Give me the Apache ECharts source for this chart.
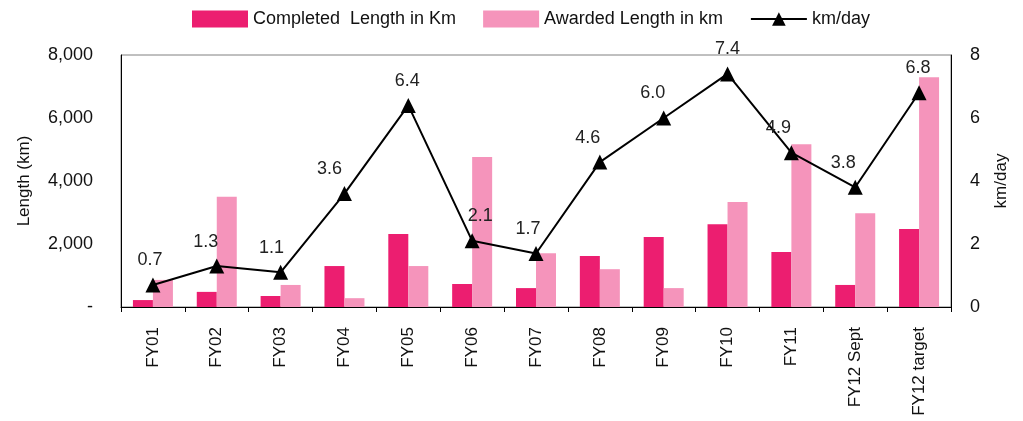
<!DOCTYPE html>
<html>
<head>
<meta charset="utf-8">
<script src="https://cdn.jsdelivr.net/npm/echarts@6/dist/echarts.min.js"></script>
<style>
html, body { margin: 0; padding: 0; background: #fff; }
#chart { width: 1023px; height: 421px; }
</style>
</head>
<body>
<div id="chart"></div>
<script>
var categories = ['FY01', 'FY02', 'FY03', 'FY04', 'FY05', 'FY06', 'FY07', 'FY08', 'FY09', 'FY10', 'FY11', 'FY12 Sept', 'FY12 target'];
var completed = [220, 480, 350, 1300, 2320, 730, 600, 1620, 2220, 2630, 1750, 700, 2480];
var awarded = [860, 3500, 700, 280, 1300, 4760, 1710, 1200, 600, 3330, 5170, 2980, 7290];
var kmPerDay = [0.7, 1.3, 1.1, 3.6, 6.4, 2.1, 1.7, 4.6, 6.0, 7.4, 4.9, 3.8, 6.8];

// small nudges so the value labels sit like in the original
var labelShift = [-3, -11, -9, -15, -1, 8, -8, -12, -11, 0, -13, -12, -1];

var font = "'Liberation Sans', Arial, sans-serif";

var chart = echarts.init(document.getElementById('chart'));
chart.setOption({
  animation: false,
  legend: {
    top: 5,
    left: 187,
    itemWidth: 56,
    itemHeight: 17,
    itemGap: 27,
    textStyle: { fontFamily: font, fontSize: 18, color: '#111' },
    data: [
      { name: 'Completed  Length in Km', icon: 'rect' },
      { name: 'Awarded Length in km', icon: 'rect' },
      { name: 'km/day' }
    ]
  },
  grid: {
    left: 121, right: 72, top: 55, bottom: 114,
    show: true, borderColor: '#808080', borderWidth: 1
  },
  xAxis: {
    type: 'category',
    data: categories,
    axisLine: { lineStyle: { color: '#000' } },
    axisTick: { show: true, length: 5, lineStyle: { color: '#000' } },
    axisLabel: { rotate: 90, fontFamily: font, fontSize: 17, color: '#111', margin: 20 }
  },
  yAxis: [
    {
      type: 'value',
      min: 0, max: 8000, interval: 2000,
      name: 'Length (km)',
      nameLocation: 'middle',
      nameGap: 88,
      nameTextStyle: { fontFamily: font, fontSize: 17, color: '#111' },
      splitLine: { show: false },
      axisLine: { show: true, lineStyle: { color: '#000' } },
      axisTick: { show: false },
      axisLabel: {
        fontFamily: font, fontSize: 18, color: '#111', margin: 28,
        formatter: function (v) { return v === 0 ? '-' : v.toLocaleString('en-US'); }
      }
    },
    {
      type: 'value',
      min: 0, max: 8, interval: 2,
      name: 'km/day',
      nameLocation: 'middle',
      nameGap: 42,
      nameRotate: 90,
      nameTextStyle: { fontFamily: font, fontSize: 17, color: '#111' },
      splitLine: { show: false },
      axisLine: { show: true, lineStyle: { color: '#000' } },
      axisTick: { show: false },
      axisLabel: { fontFamily: font, fontSize: 18, color: '#111', margin: 19 }
    }
  ],
  series: [
    {
      name: 'Completed  Length in Km',
      type: 'bar',
      data: completed,
      barWidth: 20,
      barGap: '0%',
      itemStyle: { color: '#EC1E70' }
    },
    {
      name: 'Awarded Length in km',
      type: 'bar',
      data: awarded,
      barWidth: 20,
      itemStyle: { color: '#F594BB' }
    },
    {
      name: 'km/day',
      type: 'line',
      yAxisIndex: 1,
      data: kmPerDay.map(function (v, i) {
        return { value: v, label: { offset: [labelShift[i], 0] } };
      }),
      symbol: 'triangle',
      symbolSize: 15,
      itemStyle: { color: '#000' },
      lineStyle: { color: '#000', width: 2 },
      label: {
        show: true,
        position: 'top',
        distance: 8,
        fontFamily: font,
        fontSize: 18,
        color: '#222',
        formatter: function (p) { return p.value.toFixed(1); }
      }
    }
  ]
});
</script>
</body>
</html>
